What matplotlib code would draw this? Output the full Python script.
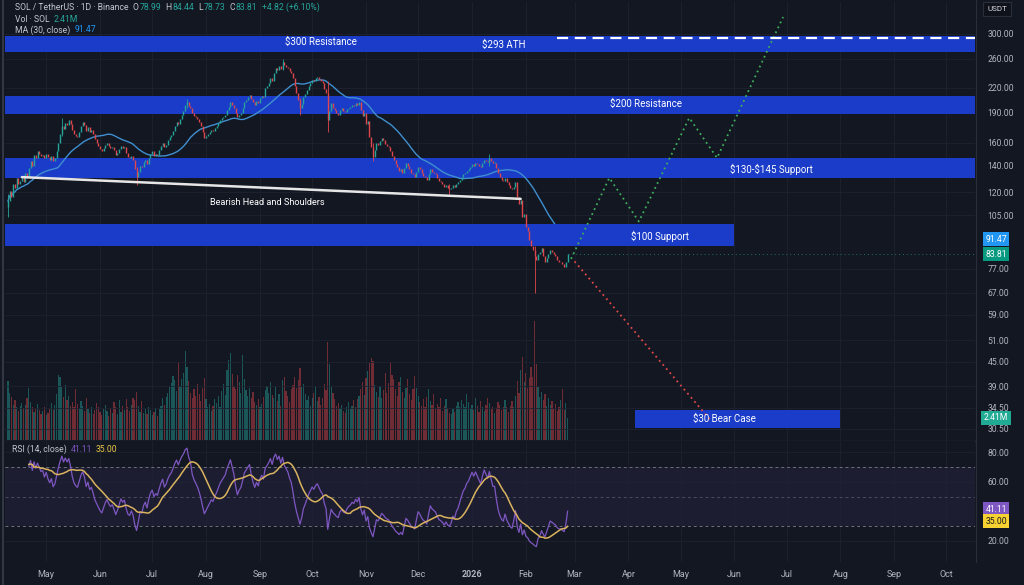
import numpy as np
import pandas as pd
import matplotlib
matplotlib.use("Agg")
import matplotlib.pyplot as plt
import matplotlib.dates as mdates
from matplotlib.ticker import NullLocator, NullFormatter
from matplotlib.transforms import blended_transform_factory

plt.rcParams['font.family'] = ['Roboto', 'DejaVu Sans']
plt.rcParams['text.parse_math'] = False

W, H = 1024, 585
BG = '#131722'
GRID = '#1e2230'
TXT = '#b2b5be'
UP = '#26a69a'
DN = '#e0474c'
BAND = '#1a3cc8'
MA_COL = '#3f8fcf'
RSI_COL = '#7e57c2'
RSI_MA_COL = '#d9b35e'

# ---------------- data ----------------
start_date = "2025-04-09"
open_first = 110.0
closes = [
    114, 121, 117, 126, 123, 130, 126, 128, 131, 127,
    134, 131, 138, 144, 140, 149, 146, 152, 150, 148,
    149, 146, 150, 147, 145, 148, 144, 146, 152, 160,
    168, 176, 173, 179, 177, 182, 178, 172, 168, 166,
    165, 170, 176, 180, 177, 171, 175, 170, 172, 168,
    163, 160, 157, 154, 152, 155, 158, 160, 157, 155,
    156, 153, 149, 151, 154, 157, 155, 156, 151, 147,
    146, 148, 145, 137, 131, 135, 140, 139, 143, 145,
    141, 146, 150, 152, 148, 150, 149, 153, 157, 160,
    156, 158, 162, 165, 167, 171, 176, 180, 178, 183,
    188, 192, 199, 202, 198, 196, 190, 187, 185, 183,
    180, 176, 170, 164, 166, 168, 170, 172, 171, 174,
    176, 179, 182, 184, 186, 188, 193, 197, 202, 199,
    196, 190, 185, 188, 190, 195, 202, 205, 208, 211,
    206, 202, 199, 203, 201, 207, 210, 208, 219, 222,
    226, 232, 229, 240, 246, 243, 249, 245, 255, 250,
    248, 246, 242, 239, 232, 222, 213, 205, 195, 200,
    208, 212, 217, 222, 226, 230, 228, 232, 234, 231,
    228, 226, 218, 213, 182, 192, 201, 196, 193, 190,
    188, 193, 195, 192, 191, 194, 196, 197, 199, 198,
    201, 199, 202, 193, 187, 190, 178, 181, 165, 156,
    147, 153, 160, 158, 161, 164, 162, 159, 157, 156,
    152, 148, 145, 141, 139, 136, 137, 134, 138, 142,
    140, 137, 134, 133, 131, 135, 139, 137, 134, 132,
    131, 129, 133, 137, 135, 134, 133, 130, 128, 127,
    126, 124, 125, 123, 122, 123, 125, 124, 126, 127,
    129, 131, 133, 134, 136, 137, 139, 141, 140, 142,
    141, 140, 139, 142, 145, 144, 143, 146, 144, 142,
    142, 138, 134, 131, 129, 128, 130, 127, 125, 123,
    122, 124, 127, 117, 112, 115, 104, 106, 98, 96,
    91, 88, 86, 83, 81, 84, 85, 87, 83, 80,
    82, 84, 86, 85, 84, 83, 81, 80, 80, 79,
    78, 80, 83.81,
]
volumes = [  # millions SOL
    6.5, 5.2, 4.8, 3.9, 4.4, 3.6, 3.2, 3.8, 4.1, 3.5,
    3.9, 4.6, 5.8, 4.2, 3.7, 3.1, 3.4, 4.0, 3.3, 2.9,
    3.2, 3.6, 2.8, 3.0, 3.4, 4.1, 3.3, 3.9, 5.1, 7.2,
    7.0, 5.9, 4.8, 6.1, 4.4, 4.9, 3.8, 4.2, 3.6, 5.6,
    4.0, 3.5, 4.3, 3.8, 3.2, 4.6, 3.4, 3.0, 3.7, 2.9,
    3.3, 4.1, 3.6, 3.1, 2.8, 3.4, 3.9, 3.2, 2.7, 3.5,
    3.0, 4.2, 3.6, 2.9, 4.4, 3.1, 3.8, 3.3, 4.5, 3.7,
    3.2, 3.9, 4.6, 4.4, 5.3, 3.8, 3.1, 4.3, 3.0, 3.5,
    2.9, 3.6, 3.3, 2.8, 3.1, 3.5, 2.7, 3.4, 3.8, 4.6,
    3.9, 4.8, 5.2, 5.9, 6.3, 7.1, 6.6, 5.4, 8.6, 6.0,
    6.8, 7.4, 9.8, 8.1, 6.5, 5.2, 4.6, 5.6, 4.9, 6.2,
    5.1, 4.3, 5.8, 6.9, 4.5, 3.6, 4.0, 3.2, 3.8, 4.5,
    4.1, 4.9, 3.6, 5.4, 6.2, 5.0, 7.8, 8.9, 9.6, 7.3,
    6.0, 5.6, 7.2, 6.4, 5.2, 9.4, 6.8, 5.5, 4.9, 5.8,
    4.6, 5.3, 4.2, 3.9, 4.5, 3.6, 4.0, 4.8, 5.5, 6.0,
    5.2, 6.4, 5.0, 4.6, 5.9, 4.3, 5.1, 3.8, 6.6, 7.0,
    5.4, 4.9, 4.2, 5.6, 6.1, 7.0, 5.8, 6.6, 8.0, 5.9,
    6.2, 5.1, 4.4, 4.9, 3.8, 4.6, 5.2, 5.9, 4.3, 4.8,
    3.9, 4.6, 6.2, 5.5, 10.9, 8.4, 6.0, 5.2, 4.5, 3.8,
    4.1, 3.5, 3.9, 3.2, 3.0, 3.6, 4.2, 3.4, 3.8, 4.4,
    3.7, 4.5, 4.9, 5.6, 6.4, 5.0, 6.9, 7.6, 8.5, 9.1,
    8.8, 6.1, 5.3, 4.8, 6.0, 4.6, 5.5, 7.4, 5.2, 6.3,
    8.6, 7.2, 6.8, 5.6, 4.9, 6.4, 7.0, 5.3, 4.6, 5.8,
    6.7, 5.1, 4.4, 5.6, 7.1, 5.8, 4.9, 4.2, 3.8, 4.5,
    3.6, 4.8, 5.7, 4.3, 3.9, 5.1, 3.4, 4.0, 3.7, 4.6,
    3.2, 3.8, 4.5, 3.5, 3.0, 2.9, 3.4, 3.1, 3.8, 4.2,
    3.6, 4.4, 4.0, 3.7, 5.1, 4.2, 3.5, 3.9, 3.3, 4.6,
    3.8, 3.1, 4.3, 3.6, 3.2, 3.9, 4.7, 4.1, 3.4, 3.7,
    3.0, 3.5, 4.2, 3.9, 3.3, 3.7, 4.4, 3.6, 3.1, 3.8,
    4.3, 3.6, 4.9, 6.5, 5.2, 7.8, 9.2, 6.4, 7.4, 5.8,
    6.9, 8.1, 7.0, 13.2, 8.4, 5.9, 4.8, 5.3, 4.4, 5.1,
    3.8, 4.6, 3.9, 4.3, 3.5, 4.0, 3.2, 3.6, 4.4, 5.6,
    3.3, 4.1, 2.41,
]
wick_idx = [0, 31, 74, 103, 158, 168, 184, 210, 254, 277, 303]
wick_high = [119, 184, 139, 206, 260, 207, 228, 160, 126, 150, 88]
wick_low = [104, 166, 125, 196, 243, 188, 170, 144, 119, 140, 67]

band_names = ["$300 Resistance", "$200 Resistance", "$130-$145 Support", "$100 Support", "$30 Bear Case"]
band_low = [270.0, 189.0, 130.4, 88.0, 30.7]
band_high = [296.6, 209.5, 146.4, 99.9, 34.0]
band_start = [None, None, None, None, "2026-04-05"]
band_end = [None, None, None, "2026-06-01", "2026-08-01"]
band_label_date = ["2025-10-06", "2026-04-11", "2026-06-22", "2026-04-19", "2026-05-26"]
band_label_price = [286.0, 200.0, 137.0, 93.0, 32.3]

ath_price = 293.0
ath_start = "2026-02-19"
ath_label_date = "2026-01-19"
ath_label_price = 281.5

neck_dates = ["2025-04-17", "2026-01-29"]
neck_prices = [131.0, 115.5]
neck_label_date = "2025-09-05"
neck_label_price = 113.0

proj_up_dates = ["2026-02-27", "2026-03-21", "2026-04-07", "2026-05-06", "2026-05-22", "2026-06-29"]
proj_up_prices = [81.6, 130.4, 101.3, 184.6, 146.4, 331.0]
proj_dn_dates = ["2026-03-01", "2026-05-19"]
proj_dn_prices = [80.4, 31.8]

price_ticks = [300, 260, 220, 190, 160, 140, 120, 105, 77, 67, 59, 51, 45, 39, 34.5, 30.5]
rsi_ticks = [80, 60, 20]
rsi_levels = [70, 50, 30]
month_labels = ["May", "Jun", "Jul", "Aug", "Sep", "Oct", "Nov", "Dec", "2026",
                "Feb", "Mar", "Apr", "May", "Jun", "Jul", "Aug", "Sep", "Oct"]
ma_value_text = "91.47"
last_close_text = "83.81"
vol_text = "2.41M"
rsi_text = "41.11"
rsi_ma_text = "35.00"

# ---------------- figure ----------------
fig = plt.figure(figsize=(W / 100, H / 100), dpi=100, facecolor=BG)


def fx(px):
    return px / W


def fy(py):
    return 1 - py / H


rect_p = [fx(5), fy(440), 970 / W, 438 / H]
vax = fig.add_axes(rect_p, zorder=1)
vax.set_facecolor(BG)
ax = fig.add_axes(rect_p, zorder=2, sharex=vax)
ax.set_facecolor('none')
rax = fig.add_axes([fx(5), fy(562), 970 / W, 121 / H], zorder=2, sharex=vax)
rax.set_facecolor(BG)

n = len(closes)
dates = pd.date_range(start_date, periods=n, freq='D')
x = mdates.date2num(dates)
c = np.array(closes, dtype=float)
o = np.concatenate([[open_first], c[:-1]])
up = c >= o

x0 = x[0]
vax.set_xlim(x0 - 1.7, x0 + 556.4)
ax.set_yscale('log')
ax.set_ylim(28.6, 361)
vax.set_ylim(0, 48.5)
rax.set_ylim(5.84, 87.42)

# month ticks + grid
month_ticks = mdates.date2num(pd.date_range("2025-05-01", periods=len(month_labels), freq="MS"))
rax.set_xticks(month_ticks)
rax.set_xticklabels(month_labels)
for lbl in rax.get_xticklabels():
    if lbl.get_text() == "2026":
        lbl.set_fontweight('bold')
rax.tick_params(axis='x', length=0, pad=6, labelsize=6.5, labelcolor=TXT)
ax.tick_params(axis='x', bottom=False, labelbottom=False)
vax.tick_params(axis='both', left=False, labelleft=False, bottom=False, labelbottom=False)
vax.grid(axis='x', color=GRID, lw=0.6)
rax.grid(axis='x', color=GRID, lw=0.6)

ax.set_yticks(price_ticks)
ax.set_yticklabels([f"{t:.2f}" for t in price_ticks])
ax.yaxis.set_minor_locator(NullLocator())
ax.yaxis.set_minor_formatter(NullFormatter())
ax.yaxis.tick_right()
ax.tick_params(axis='y', length=0, pad=9, labelsize=6.2, labelcolor=TXT)
ax.grid(axis='y', which='major', color=GRID, lw=0.6, zorder=0)

rax.set_yticks(rsi_ticks)
rax.set_yticklabels([f"{t:.2f}" for t in rsi_ticks])
rax.yaxis.tick_right()
rax.tick_params(axis='y', length=0, pad=9, labelsize=6.2, labelcolor=TXT)
rax.grid(axis='y', color=GRID, lw=0.6)

for a in (ax, vax, rax):
    for s in a.spines.values():
        s.set_visible(False)

# volume
vcol = [UP if u else DN for u in up]
vax.bar(x, volumes, width=0.7, color=vcol, alpha=0.45, linewidth=0, zorder=2)

# bands
xl = vax.get_xlim()
for i, name in enumerate(band_names):
    xs = xl[0] if band_start[i] is None else mdates.datestr2num(band_start[i])
    xe = xl[1] if band_end[i] is None else mdates.datestr2num(band_end[i])
    z = 3.5 if name == "$100 Support" else 2
    ax.fill_between([xs, xe], band_low[i], band_high[i], color=BAND, lw=0, zorder=z)
    ax.text(mdates.datestr2num(band_label_date[i]), band_label_price[i], name,
            color='white', fontsize=7, ha='center', va='center', zorder=7)

# ATH dashed line
ax.plot([mdates.datestr2num(ath_start), xl[1]], [ath_price, ath_price], color='white',
        lw=1.6, ls=(0, (5, 3)), zorder=6)
ax.text(mdates.datestr2num(ath_label_date), ath_label_price, "$293 ATH", color='white',
        fontsize=7, ha='center', va='center', zorder=7)

# MA 30
ma = pd.Series(c).rolling(30, min_periods=1).mean().values
ax.plot(x, ma, color=MA_COL, lw=1.0, zorder=3)

# candles
for i in range(n):
    lo_b, hi_b = min(o[i], c[i]), max(o[i], c[i])
    if hi_b / lo_b < 1.004:
        hi_b = lo_b * 1.004
    col = UP if up[i] else DN
    ax.vlines(x[i], lo_b, hi_b, color=col, lw=1.0, zorder=4)
for k, i in enumerate(wick_idx):
    col = UP if up[i] else DN
    ax.vlines(x[i], wick_low[k], wick_high[k], color=col, lw=0.6, zorder=4)

# neckline
ax.plot(mdates.datestr2num(neck_dates), neck_prices, color='#e6e6e6', lw=1.8, zorder=5,
        solid_capstyle='round')
ax.text(mdates.datestr2num(neck_label_date), neck_label_price, "Bearish Head and Shoulders",
        color='white', fontsize=6.6, ha='center', va='center', zorder=7)

# projections
ax.plot(mdates.datestr2num(proj_up_dates), proj_up_prices, color='#3fae5a', lw=1.3,
        ls=(0, (1, 2)), zorder=5, clip_on=False)
ax.plot(mdates.datestr2num(proj_dn_dates), proj_dn_prices, color='#e04848', lw=1.3,
        ls=(0, (1, 2)), zorder=5)

# last price dotted line
ax.plot([x[-1], xl[1]], [c[-1], c[-1]], color=UP, lw=0.7, ls=(0, (1, 3)), alpha=0.6, zorder=3)

# RSI
s = pd.Series(c)
d = s.diff()
g = d.clip(lower=0).ewm(alpha=1 / 14, adjust=True).mean()
l = (-d).clip(lower=0).ewm(alpha=1 / 14, adjust=True).mean()
rsi = 100 - 100 / (1 + g / l)
rsi_ma = rsi.rolling(14, min_periods=1).mean()
rax.axhspan(30, 70, color=RSI_COL, alpha=0.10, lw=0, zorder=1)
for lv in rsi_levels:
    rax.axhline(lv, color='#787b86', lw=0.7, ls=(0, (3, 3)), alpha=0.9 if lv != 50 else 0.5, zorder=2)
rsi_from = 12
rax.plot(x[rsi_from:], rsi.values[rsi_from:], color=RSI_COL, lw=0.9, zorder=3)
rax.plot(x[rsi_from:], rsi_ma.values[rsi_from:], color=RSI_MA_COL, lw=1.1, zorder=4)

# separators / borders
fig.add_artist(plt.Line2D([fx(5), fx(975)], [fy(440.5), fy(440.5)], color='#2a2e39', lw=1))
fig.add_artist(plt.Line2D([fx(975.5), fx(975.5)], [fy(0), fy(562)], color='#2a2e39', lw=0.8))
fig.add_artist(plt.Line2D([fx(3), fx(3)], [0, 1], color='#3a3e4a', lw=1.2))

# header text
renderer = fig.canvas.get_renderer()


def seq_text(x_px, y_px, parts, size=6.2):
    xp = x_px
    for txt, col, gap in parts:
        t = fig.text(fx(xp), fy(y_px), txt, color=col, fontsize=size, ha='left', va='center',
                     zorder=6)
        xp += t.get_window_extent(renderer=renderer).width + gap


HG = '#c3c6ce'
GV = '#26a69a'
seq_text(15, 7, [("SOL / TetherUS · 1D · Binance", HG, 4), ("O", HG, 1), ("78.99", GV, 4),
                 ("H", HG, 1), ("84.44", GV, 4), ("L", HG, 1), ("78.73", GV, 4),
                 ("C", HG, 1), ("83.81", GV, 4), ("+4.82 (+6.10%)", GV, 0)])
seq_text(15, 19, [("Vol · SOL", HG, 4), ("2.41M", GV, 0)])
seq_text(15, 30, [("MA (30, close)", HG, 4), ("91.47", '#2196f3', 0)])
seq_text(12, 449, [("RSI (14, close)", HG, 4), ("41.11", RSI_COL, 4), ("35.00", '#e8c547', 0)])

# right-axis tags
bt = blended_transform_factory(fig.transFigure, ax.transData)


def tag_data(yval, text, fc, tc='white'):
    ax.text(fx(996), yval, text, transform=bt, color=tc, fontsize=6.2, ha='center', va='center',
            zorder=10, clip_on=False,
            bbox=dict(boxstyle='square,pad=0.3', fc=fc, ec='none'))


def tag_px(ypx, text, fc, tc='white'):
    fig.text(fx(996), fy(ypx), text, color=tc, fontsize=6.2, ha='center', va='center', zorder=10,
             bbox=dict(boxstyle='square,pad=0.3', fc=fc, ec='none'))


tag_data(float(ma_value_text), ma_value_text, '#2196f3')
tag_data(c[-1], last_close_text, '#089981')
tag_px(418, vol_text, '#22ab94')
tag_px(509, rsi_text, RSI_COL)
tag_px(521, rsi_ma_text, '#f5d131', tc='#1a1a1a')
fig.text(fx(997), fy(9), "USDT", color='#d1d4dc', fontsize=5.8, ha='center', va='center',
         bbox=dict(boxstyle='square,pad=0.45', fc='#0f121a', ec='#2a2e39', lw=0.8))

fig.savefig("out.png", dpi=100, facecolor=BG)
